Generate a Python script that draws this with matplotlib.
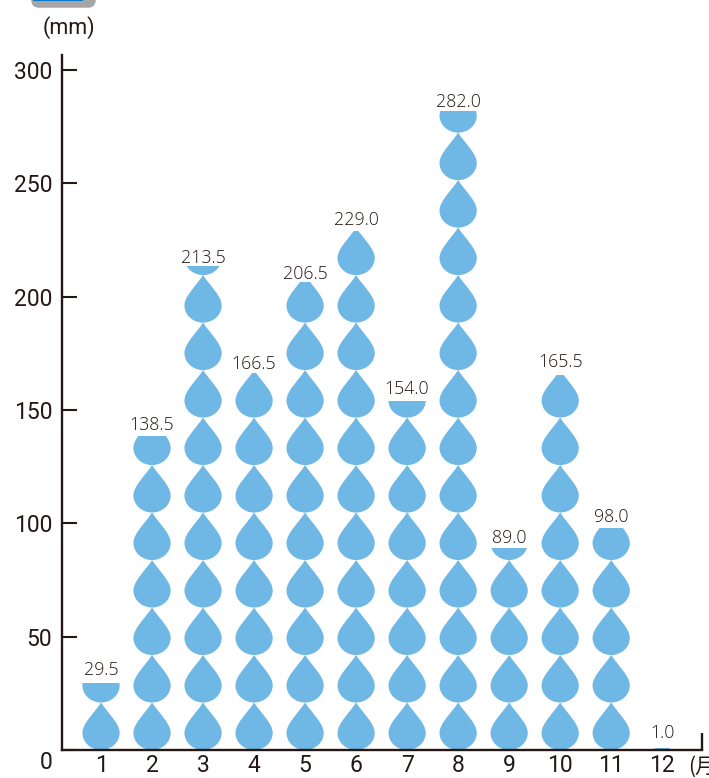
import matplotlib
matplotlib.use("Agg")
import matplotlib.pyplot as plt
from matplotlib.patches import FancyBboxPatch, PathPatch, Rectangle
from matplotlib.path import Path
from matplotlib.transforms import Affine2D, IdentityTransform, ScaledTranslation

# Monthly rainfall (mm)
months = [1, 2, 3, 4, 5, 6, 7, 8, 9, 10, 11, 12]
rain = [29.5, 138.5, 213.5, 166.5, 206.5, 229.0, 154.0, 282.0, 89.0, 165.5, 98.0, 1.0]
rain_labels = ["29.5", "138.5", "213.5", "166.5", "206.5", "229.0",
               "154.0", "282.0", "89.0", "165.5", "98.0", "1.0"]
y_ticks = [0, 50, 100, 150, 200, 250, 300]

W, H = 709, 778
DROP_MM = 20.95      # one drop stands for this many mm
DROP_W = 0.73        # drop width, in months
BLUE = "#6fb8e6"
INK = "#231815"
AXIS_FONT = "Roboto"
LABEL_FONT = "Open Sans"

# offset of each value label above its column, in pixels
label_gap = [13, 11, 8, 9, 8, 11, 12, 9, 10, 13, 11, 15]

# teardrop in a unit box: tip at (0, 1), bottom at (0, 0), width 1
CY = 0.36
kx = 0.5523 * 0.5
ky = 0.5523 * CY
drop_verts = [(0, 1),
              (0.2, 0.76), (0.5, 0.56), (0.5, CY),
              (0.5, CY - ky), (kx, 0), (0, 0),
              (-kx, 0), (-0.5, CY - ky), (-0.5, CY),
              (-0.5, 0.56), (-0.2, 0.76), (0, 1)]
drop_codes = [Path.MOVETO] + [Path.CURVE4] * 12
drop = Path(drop_verts, drop_codes)

fig = plt.figure(figsize=(W / 100, H / 100), dpi=100, facecolor="white")
ax = fig.add_axes([62 / W, (H - 750) / H, (702 - 62) / W, (750 - 55) / H])
ax.set_xlim(0.235, 12.78)
ax.set_ylim(0, 306.6)
ax.patch.set_alpha(0)

for month, value, gap, text in zip(months, rain, label_gap, rain_labels):
    clip = Rectangle((month - 0.5, 0), 1, value, transform=ax.transData)
    n = 0
    while n * DROP_MM < value:
        tr = Affine2D().scale(DROP_W, DROP_MM).translate(month, n * DROP_MM)
        p = PathPatch(drop, transform=tr + ax.transData, fc=BLUE, ec="none", zorder=2)
        ax.add_patch(p)
        p.set_clip_path(clip)
        n += 1
    ax.annotate(text, (month, value), xytext=(0, gap * 0.72), textcoords="offset points",
                ha="center", va="center", fontsize=12.8, color=INK, family=LABEL_FONT,
                weight="light")

# axes
for side in ("top", "right"):
    ax.spines[side].set_visible(False)
for side in ("left", "bottom"):
    ax.spines[side].set_linewidth(1.7)
    ax.spines[side].set_color(INK)
    ax.spines[side].set_zorder(3)

ax.set_yticks(y_ticks)
ax.set_xticks(months)
ax.tick_params(axis="y", direction="in", length=11, width=1.5, color=INK, pad=7,
               labelsize=16.5, labelcolor=INK)
ax.tick_params(axis="x", length=0, pad=3, labelsize=16.5, labelcolor=INK)
for lab in ax.get_xticklabels() + ax.get_yticklabels():
    lab.set_family(AXIS_FONT)
# the 0 sits lower than its tick
zero = ax.get_yticklabels()[0]
zero.set_transform(zero.get_transform() + ScaledTranslation(0, -7 / 72, fig.dpi_scale_trans))

# short end mark on the right of the month axis
ax.plot([1, 1], [0, 17 / 695], transform=ax.transAxes, color=INK, lw=1.7, clip_on=False,
        solid_capstyle="butt")

fig.text(69 / W, 1 - 28 / H, "(mm)", ha="center", va="center", fontsize=15.5,
         color=INK, family=AXIS_FONT)
fig.text(688 / W, 1 - 767 / H, "(月", ha="left", va="center", fontsize=15, color=INK,
         family=["Noto Sans CJK JP", "DejaVu Sans"])

# piece of the legend box cut off by the top edge
to_px = IdentityTransform()
fig.add_artist(FancyBboxPatch((33, H - 6), 61, 30, boxstyle="round,pad=0,rounding_size=6",
                              fc="#a6a6a6", ec="#a6a6a6", lw=2.5, transform=to_px))
fig.add_artist(Rectangle((33, H - 1), 50, 3, fc="#0a78c8", ec="none", transform=to_px))

fig.savefig("out.png", dpi=100)
